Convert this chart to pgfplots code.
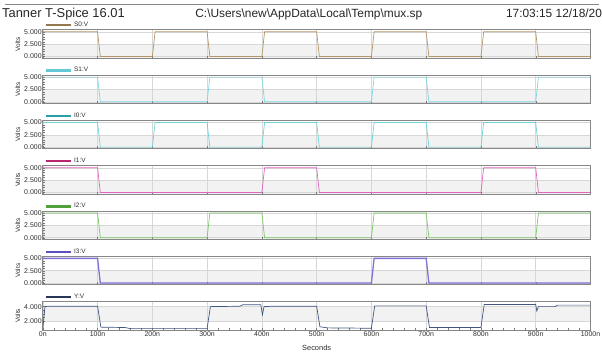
\documentclass[border=0pt]{standalone}
\usepackage{pgfplots}
\pgfplotsset{compat=1.18}
\usepackage{fontspec}
\setmainfont{Liberation Sans}
\definecolor{framec}{RGB}{135,135,135}
\definecolor{gridc}{RGB}{215,215,215}
\definecolor{bandc}{RGB}{242,242,242}
\definecolor{labc}{RGB}{45,45,45}
\definecolor{tickc}{RGB}{120,120,120}
\definecolor{S0c}{RGB}{180,150,105}\definecolor{S0l}{RGB}{150,120,80}
\definecolor{S1c}{RGB}{125,215,225}\definecolor{S1l}{RGB}{100,200,215}
\definecolor{I0c}{RGB}{110,210,215}\definecolor{I0l}{RGB}{40,160,170}
\definecolor{I1c}{RGB}{225,100,190}\definecolor{I1l}{RGB}{185,40,110}
\definecolor{I2c}{RGB}{125,200,105}\definecolor{I2l}{RGB}{80,160,60}
\definecolor{I3c}{RGB}{125,115,215}\definecolor{I3l}{RGB}{90,80,190}
\definecolor{Yc}{RGB}{65,85,125}\definecolor{Yl}{RGB}{40,55,85}
\pgfplotsset{
 panel/.style={
  set layers,
  scale only axis, width=550bp, height=28.5bp,
  xmin=0, xmax=1000, ymin=-0.35, ymax=5.4,
  xtick={0,100,...,1000}, xticklabels={},
  ytick={0,2.5,5}, yticklabels={0.000,2.500,5.000},
  ymajorgrids, xmajorgrids,
  major grid style={draw=gridc, line width=0.5pt},
  minor y tick num=4,
  tick align=inside, xtick pos=bottom, ytick pos=left,
  major tick length=2.5bp, minor tick length=1.8bp,
  tick style={draw=tickc, line width=0.4pt},
  axis line style={draw=framec, line width=0.9pt},
  yticklabel style={font=\fontsize{7}{8}\selectfont, text=labc, inner sep=1bp},
  ylabel={Volts},
  every axis y label/.style={at={(rel axis cs:-0.0455,0.5)}, rotate=90, anchor=center, font=\fontsize{6.5}{7}\selectfont, text=labc},
  legend style={at={(rel axis cs:0,1)}, anchor=south west, draw=none, fill=none, inner sep=0pt, font=\fontsize{6.5}{7}\selectfont, text=labc, xshift=2bp, yshift=0.5bp, column sep=1bp, nodes={inner sep=1bp}},
  legend image code/.code={\draw[#1] (0bp,0bp) -- (25bp,0bp);},
 },
 sig/.style={line width=0.7pt, forget plot},
 bandp/.style={fill=bandc, draw=none, on layer=axis background, forget plot},
}
\begin{document}
\begin{tikzpicture}[x=1bp,y=1bp]
\draw[framec, line width=0.6pt] (5,350) -- (602,350);
\node[anchor=base west, inner sep=0, text=black!85, font=\fontsize{13}{14}\selectfont] at (2,336.5) {Tanner T-Spice 16.01};
\node[anchor=base west, inner sep=0, text=black!85, font=\fontsize{12}{14}\selectfont] at (196,336.5) {C:\textbackslash Users\textbackslash new\textbackslash AppData\textbackslash Local\textbackslash Temp\textbackslash mux.sp};
\node[anchor=base west, inner sep=0, text=black!85, font=\fontsize{12}{14}\selectfont] at (508,336.5) {17:03:15 12/18/20};

% S0
\begin{axis}[panel, at={(43bp,295.5bp)}, anchor=south west]
\addplot[bandp] coordinates {(0,-0.35)(1000,-0.35)(1000,2.5)(0,2.5)} -- cycle;
\addlegendimage{color=S0l, line width=2.3pt}\addlegendentry{S0:V}
\addplot[sig, color=S0c] coordinates {(0,5)(100,5)(105,0)(200,0)(205,5)(300,5)(305,0)(400,0)(405,5)(500,5)(505,0)(600,0)(605,5)(700,5)(705,0)(800,0)(805,5)(900,5)(905,0)(1000,0)};
\end{axis}
% S1
\begin{axis}[panel, at={(43bp,250bp)}, anchor=south west]
\addplot[bandp] coordinates {(0,-0.35)(1000,-0.35)(1000,2.5)(0,2.5)} -- cycle;
\addlegendimage{color=S1l, line width=2.3pt}\addlegendentry{S1:V}
\addplot[sig, color=S1c] coordinates {(0,5)(100,5)(105,0)(300,0)(305,5)(400,5)(405,0)(600,0)(605,5)(700,5)(705,0)(900,0)(905,5)(1000,5)};
\end{axis}
% I0
\begin{axis}[panel, at={(43bp,204.5bp)}, anchor=south west]
\addplot[bandp] coordinates {(0,-0.35)(1000,-0.35)(1000,2.5)(0,2.5)} -- cycle;
\addlegendimage{color=I0l, line width=2.3pt}\addlegendentry{I0:V}
\addplot[sig, color=I0c] coordinates {(0,5)(100,5)(105,0)(200,0)(205,5)(300,5)(305,0)(400,0)(405,5)(500,5)(505,0)(600,0)(605,5)(700,5)(705,0)(800,0)(805,5)(900,5)(905,0)(1000,0)};
\end{axis}
% I1
\begin{axis}[panel, at={(43bp,159bp)}, anchor=south west]
\addplot[bandp] coordinates {(0,-0.35)(1000,-0.35)(1000,2.5)(0,2.5)} -- cycle;
\addlegendimage{color=I1l, line width=2.3pt}\addlegendentry{I1:V}
\addplot[sig, color=I1c] coordinates {(0,5)(100,5)(105,0)(400,0)(405,5)(500,5)(505,0)(800,0)(805,5)(900,5)(905,0)(1000,0)};
\end{axis}
% I2
\begin{axis}[panel, at={(43bp,113.5bp)}, anchor=south west]
\addplot[bandp] coordinates {(0,-0.35)(1000,-0.35)(1000,2.5)(0,2.5)} -- cycle;
\addlegendimage{color=I2l, line width=2.3pt}\addlegendentry{I2:V}
\addplot[sig, color=I2c] coordinates {(0,5)(100,5)(105,0)(300,0)(305,5)(400,5)(405,0)(600,0)(605,5)(700,5)(705,0)(900,0)(905,5)(1000,5)};
\end{axis}
% I3
\begin{axis}[panel, at={(43bp,68bp)}, anchor=south west]
\addplot[bandp] coordinates {(0,-0.35)(1000,-0.35)(1000,2.5)(0,2.5)} -- cycle;
\addlegendimage{color=I3l, line width=2.3pt}\addlegendentry{I3:V}
\addplot[sig, color=I3c, line width=1.3pt] coordinates {(0,5)(100,5)(105,0)(600,0)(605,5)(700,5)(705,0)(1000,0)};
\end{axis}
% Y
\begin{axis}[panel, at={(43bp,22.5bp)}, anchor=south west,
  ymin=0.8, ymax=4.67, ytick={2,4}, yticklabels={2.000,4.000}, minor y tick num=3,
  minor x tick num=4,
  xticklabels={0n,100n,200n,300n,400n,500n,600n,700n,800n,900n,1000n},
  xticklabel style={font=\fontsize{7}{8}\selectfont, text=labc, inner sep=1bp},
  xlabel={Seconds},
  every axis x label/.style={at={(rel axis cs:0.5,0)}, anchor=center, yshift=-17.5bp, font=\fontsize{7.5}{8}\selectfont, text=labc}]
\addplot[bandp] coordinates {(0,2)(1000,2)(1000,4)(0,4)} -- cycle;
\addlegendimage{color=Yl, line width=2.3pt}\addlegendentry{Y:V}
\addplot[sig, color=Yc] coordinates {(0,1.0)(4,4.0)(10,4.05)(100,4.05)(106,1.2)(150,1.15)(160,1.0)(300,1.0)(306,4.0)(360,4.05)(365,4.25)(398,4.25)(401,2.9)(404,4.0)(420,4.05)(500,4.05)(506,1.25)(520,1.1)(600,1.05)(606,4.1)(700,4.1)(706,1.15)(800,1.15)(806,4.3)(900,4.3)(902,3.4)(905,4.0)(935,4.0)(940,4.2)(1000,4.2)};
\end{axis}
\useasboundingbox (0,0) rectangle (602,354);
\end{tikzpicture}
\end{document}
